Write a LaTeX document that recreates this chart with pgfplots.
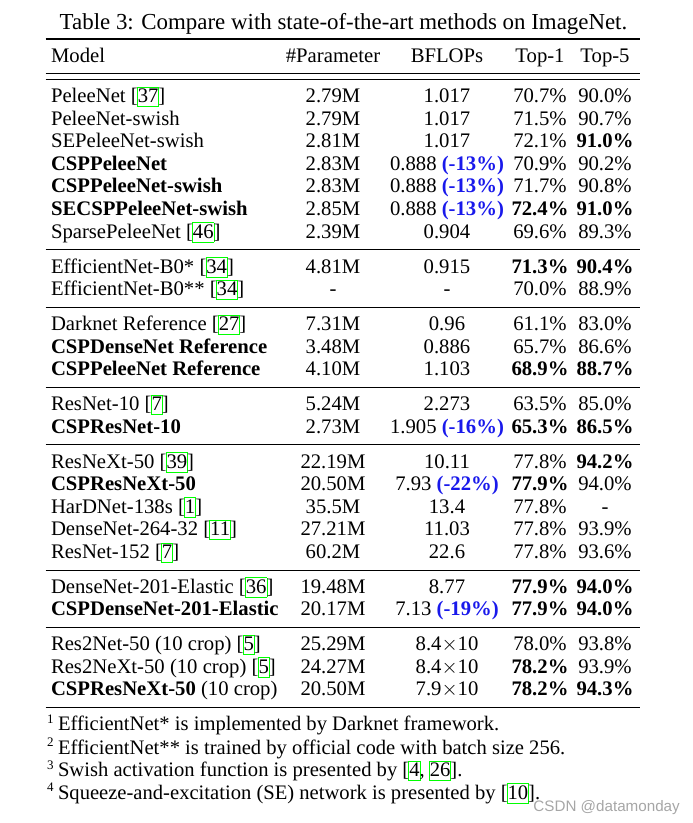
\documentclass[border=0pt]{standalone}
\usepackage{pgfplots}
\pgfplotsset{compat=1.18}
\usepackage{fontspec}
\setmainfont{Liberation Serif}
\newfontfamily\wmfont{Liberation Sans}
\definecolor{citegreen}{RGB}{0,255,0}
\definecolor{pblue}{RGB}{25,25,235}
\newcommand{\cbox}[1]{{\setlength{\fboxsep}{0pt}\setlength{\fboxrule}{0.8pt}\kern-0.8pt\textcolor{citegreen}{\fbox{\textcolor{black}{\rule[-0.17em]{0pt}{0.9em}#1}}}\kern-0.8pt}}
\newcommand{\ct}[1]{[\cbox{#1}]}
\newcommand{\pb}[1]{\textcolor{pblue}{\textbf{#1}}}
\newcommand{\tf}{\fontsize{20.7}{24}\selectfont}
\tikzset{tn/.style={font=\tf, inner sep=0pt, outer sep=0pt}}
\newcommand{\row}[6]{%
  \node[tn, anchor=base west] at (axis cs:51,#1) {#2};
  \node[tn, anchor=base] at (axis cs:333,#1) {#3};
  \node[tn, anchor=base] at (axis cs:447,#1) {#4};
  \node[tn, anchor=base] at (axis cs:540,#1) {#5};
  \node[tn, anchor=base] at (axis cs:605,#1) {#6};
}
\newcommand{\fnote}[3]{%
  \node[inner sep=0pt, anchor=base west, font=\fontsize{13}{14}\selectfont] at (axis cs:47,#1-7.7) {#2};
  \node[inner sep=0pt, anchor=base west, font=\fontsize{20.6}{24}\selectfont] at (axis cs:57.8,#1) {#3};
}
\begin{document}
\begin{tikzpicture}
\begin{axis}[name=ax, scale only axis, width=693pt, height=823pt,
  xmin=0, xmax=693, ymin=0, ymax=823, y dir=reverse, hide axis, clip=false]
% rules
\addplot[black, line width=1.6pt] coordinates {(45.5,39) (640,39)};
\addplot[black, line width=1pt] coordinates {(45.5,73.3) (640,73.3)};
\addplot[black, line width=1pt] coordinates {(45.5,79.3) (640,79.3)};
\addplot[black, line width=1pt] coordinates {(45.5,249.8) (640,249.8)};
\addplot[black, line width=1pt] coordinates {(45.5,307.4) (640,307.4)};
\addplot[black, line width=1pt] coordinates {(45.5,387.4) (640,387.4)};
\addplot[black, line width=1pt] coordinates {(45.5,444.5) (640,444.5)};
\addplot[black, line width=1pt] coordinates {(45.5,570) (640,570)};
\addplot[black, line width=1pt] coordinates {(45.5,627.4) (640,627.4)};
\addplot[black, line width=1.6pt] coordinates {(45.5,707.4) (640,707.4)};
% title
\node[inner sep=0pt, anchor=base, font=\fontsize{22.9}{26}\selectfont] at (axis cs:343.5,29.3) {Table 3: Compare with state-of-the-art methods on ImageNet.};
% header
\row{62.7}{Model}{\#Parameter}{BFLOPs}{Top-1}{Top-5}
% group 1
\row{102.5}{PeleeNet \ct{37}}{2.79M}{1.017}{70.7\%}{90.0\%}
\row{125.1}{PeleeNet-swish}{2.79M}{1.017}{71.5\%}{90.7\%}
\row{147.7}{SEPeleeNet-swish}{2.81M}{1.017}{72.1\%}{\textbf{91.0\%}}
\row{170.3}{\textbf{CSPPeleeNet}}{2.83M}{0.888 \pb{(-13\%)}}{70.9\%}{90.2\%}
\row{192.9}{\textbf{CSPPeleeNet-swish}}{2.83M}{0.888 \pb{(-13\%)}}{71.7\%}{90.8\%}
\row{215.5}{\textbf{SECSPPeleeNet-swish}}{2.85M}{0.888 \pb{(-13\%)}}{\textbf{72.4\%}}{\textbf{91.0\%}}
\row{238.1}{SparsePeleeNet \ct{46}}{2.39M}{0.904}{69.6\%}{89.3\%}
% group 2
\row{273.3}{EfficientNet-B0* \ct{34}}{4.81M}{0.915}{\textbf{71.3\%}}{\textbf{90.4\%}}
\row{295.9}{EfficientNet-B0** \ct{34}}{-}{-}{70.0\%}{88.9\%}
% group 3
\row{330.7}{Darknet Reference \ct{27}}{7.31M}{0.96}{61.1\%}{83.0\%}
\row{353.3}{\textbf{CSPDenseNet Reference}}{3.48M}{0.886}{65.7\%}{86.6\%}
\row{375.9}{\textbf{CSPPeleeNet Reference}}{4.10M}{1.103}{\textbf{68.9\%}}{\textbf{88.7\%}}
% group 4
\row{410.7}{ResNet-10 \ct{7}}{5.24M}{2.273}{63.5\%}{85.0\%}
\row{433.3}{\textbf{CSPResNet-10}}{2.73M}{1.905 \pb{(-16\%)}}{\textbf{65.3\%}}{\textbf{86.5\%}}
% group 5
\row{468.1}{ResNeXt-50 \ct{39}}{22.19M}{10.11}{77.8\%}{\textbf{94.2\%}}
\row{490.7}{\textbf{CSPResNeXt-50}}{20.50M}{7.93 \pb{(-22\%)}}{\textbf{77.9\%}}{94.0\%}
\row{513.3}{HarDNet-138s \ct{1}}{35.5M}{13.4}{77.8\%}{-}
\row{535.9}{DenseNet-264-32 \ct{11}}{27.21M}{11.03}{77.8\%}{93.9\%}
\row{558.5}{ResNet-152 \ct{7}}{60.2M}{22.6}{77.8\%}{93.6\%}
% group 6
\row{593.3}{DenseNet-201-Elastic \ct{36}}{19.48M}{8.77}{\textbf{77.9\%}}{\textbf{94.0\%}}
\row{615.9}{\textbf{CSPDenseNet-201-Elastic}}{20.17M}{7.13 \pb{(-19\%)}}{\textbf{77.9\%}}{\textbf{94.0\%}}
% group 7
\row{650.7}{Res2Net-50 (10 crop) \ct{5}}{25.29M}{8.4$\times$10}{78.0\%}{93.8\%}
\row{673.3}{Res2NeXt-50 (10 crop) \ct{5}}{24.27M}{8.4$\times$10}{\textbf{78.2\%}}{93.9\%}
\row{695.9}{\textbf{CSPResNeXt-50} (10 crop)}{20.50M}{7.9$\times$10}{\textbf{78.2\%}}{\textbf{94.3\%}}
% footnotes
\fnote{730.7}{1}{EfficientNet* is implemented by Darknet framework.}
\fnote{754}{2}{EfficientNet** is trained by official code with batch size 256.}
\fnote{776.7}{3}{Swish activation function is presented by [\cbox{4}, \cbox{26}].}
\fnote{799.3}{4}{Squeeze-and-excitation (SE) network is presented by [\cbox{10}].}
% watermark
\node[inner sep=0pt, anchor=base east, font=\wmfont\fontsize{15.2}{17}\selectfont, text=black!35] at (axis cs:680,811.5) {CSDN @datamonday};
\end{axis}
\pgfresetboundingbox
\path (ax.south west) rectangle (ax.north east);
\end{tikzpicture}
\end{document}
